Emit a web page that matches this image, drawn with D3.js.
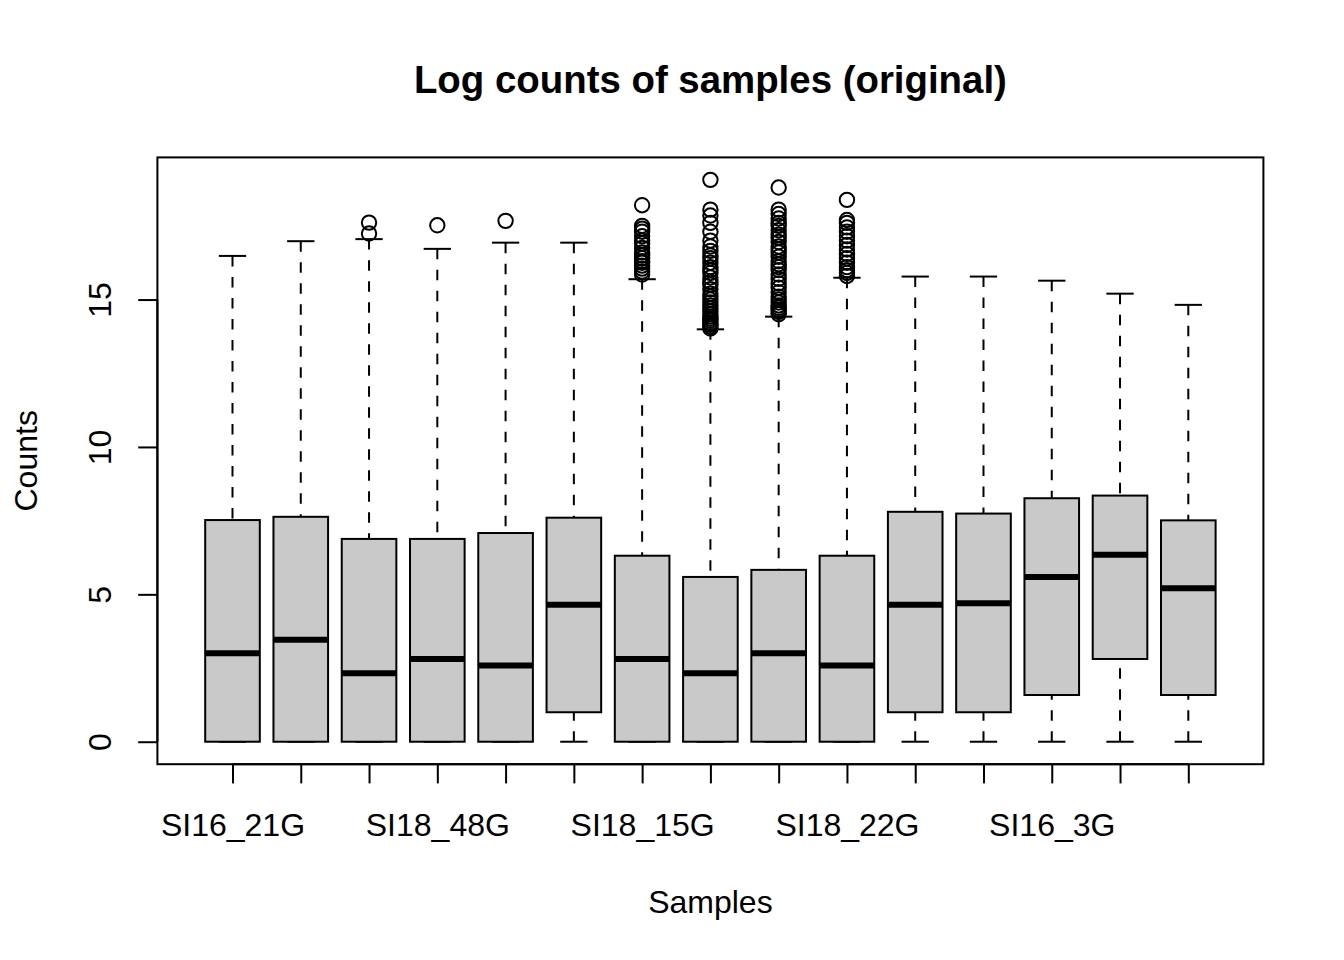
<!DOCTYPE html>
<html>
<head>
<meta charset="utf-8">
<script src="https://cdn.jsdelivr.net/npm/d3@7"></script>
<style>
  html, body { margin: 0; padding: 0; background: #ffffff; }
  svg { display: block; }
  text { font-family: "Liberation Sans", Arial, Helvetica, sans-serif; fill: #000; }
</style>
</head>
<body>
<svg id="chart" width="1344" height="960"></svg>
<script>
// ---------------- data ----------------
const sampleIndex = [1, 2, 3, 4, 5, 6, 7, 8, 9, 10, 11, 12, 13, 14, 15];
// only every third sample label is drawn in the reference (others suppressed by overlap)
const tickLabels = ["SI16_21G", "", "", "SI18_48G", "", "", "SI18_15G", "", "", "SI18_22G", "", "", "SI16_3G", "", ""];

const whiskerLow  = [0, 0, 0, 0, 0, 0, 0, 0, 0, 0, 0, 0, 0, 0, 0];
const q1Values    = [0, 0, 0, 0, 0, 1.0, 0, 0, 0, 0, 1.0, 1.0, 1.585, 2.807, 1.585];
const medians     = [3.0, 3.459, 2.322, 2.807, 2.585, 4.644, 2.807, 2.322, 3.0, 2.585, 4.644, 4.70, 5.585, 6.34, 5.21];
const q3Values    = [7.52, 7.63, 6.88, 6.88, 7.08, 7.60, 6.31, 5.59, 5.83, 6.31, 7.80, 7.74, 8.26, 8.35, 7.51];
const whiskerHigh = [16.48, 16.98, 17.05, 16.72, 16.93, 16.93, 15.69, 13.99, 14.42, 15.74, 15.78, 15.78, 15.64, 15.20, 14.82];

const outliers3  = [17.24, 17.61];
const outliers4  = [17.52];
const outliers5  = [17.67];
const outliers7  = [15.85, 15.95, 16.05, 16.15, 16.25, 16.3, 16.4, 16.5, 16.6, 16.75, 16.9, 17.0, 17.15, 17.3, 17.4, 17.5, 18.2];
const outliers8  = [14.02, 14.08, 14.15, 14.2, 14.28, 14.35, 14.42, 14.5, 14.6, 14.7, 14.8, 14.9, 15.0, 15.1, 15.2, 15.35, 15.5, 15.6, 15.75, 15.9, 16.0, 16.1, 16.25, 16.4, 16.5, 16.65, 16.8, 17.0, 17.3, 17.6, 17.85, 18.05, 19.06];
const outliers9  = [14.5, 14.58, 14.65, 14.72, 14.8, 14.9, 15.0, 15.1, 15.25, 15.4, 15.55, 15.7, 15.85, 16.0, 16.1, 16.2, 16.3, 16.45, 16.6, 16.7, 16.8, 16.95, 17.1, 17.2, 17.35, 17.5, 17.6, 17.75, 17.9, 18.05, 18.8];
const outliers10 = [15.8, 15.9, 16.0, 16.1, 16.25, 16.4, 16.55, 16.7, 16.85, 17.0, 17.15, 17.3, 17.45, 17.6, 17.7, 18.38];
const outlierLists = [[], [], outliers3, outliers4, outliers5, [], outliers7, outliers8, outliers9, outliers10, [], [], [], [], []];

const yTicks = [0, 5, 10, 15];

const titleText = "Log counts of samples (original)";
const xTitle = "Samples";
const yTitle = "Counts";

// ---------------- layout ----------------
const W = 1344, H = 960;
const plot = { left: 157.4, right: 1263.4, top: 157.4, bottom: 764.2 };

const svg = d3.select("#chart");

// R-style 4% expanded ranges
const n = sampleIndex.length;
const xPad = (n) * 0.04;
const x = d3.scaleLinear().domain([0.5 - xPad, n + 0.5 + xPad]).range([plot.left, plot.right]);

const allVals = [].concat(whiskerLow, whiskerHigh, ...outlierLists);
const yMin = d3.min(allVals), yMax = d3.max(allVals);
const yPad = (yMax - yMin) * 0.04;
const y = d3.scaleLinear().domain([yMin - yPad, yMax + yPad]).range([plot.bottom, plot.top]);

const boxHalf = (x(1.4) - x(1)) ;      // box half width = 0.4 units
const capHalf = boxHalf * 0.5;          // staple half width
const lw = 2;

const boxes = sampleIndex.map((s, i) => ({
  s, lo: whiskerLow[i], q1: q1Values[i], med: medians[i], q3: q3Values[i], hi: whiskerHigh[i], out: outlierLists[i]
}));

const g = svg.append("g");

// whiskers (dashed), drawn from whisker end toward the box as R does
const bg = g.selectAll("g.box").data(boxes).enter().append("g").attr("class", "box");

bg.append("line")
  .attr("x1", d => x(d.s)).attr("x2", d => x(d.s))
  .attr("y1", d => y(d.hi)).attr("y2", d => y(d.q3))
  .attr("stroke", "#000").attr("stroke-width", lw).attr("stroke-dasharray", "10.5,10.5");
bg.append("line")
  .attr("x1", d => x(d.s)).attr("x2", d => x(d.s))
  .attr("y1", d => y(d.lo)).attr("y2", d => y(d.q1))
  .attr("stroke", "#000").attr("stroke-width", lw).attr("stroke-dasharray", "10.5,10.5");

// staples
bg.append("line")
  .attr("x1", d => x(d.s) - capHalf).attr("x2", d => x(d.s) + capHalf)
  .attr("y1", d => y(d.hi)).attr("y2", d => y(d.hi))
  .attr("stroke", "#000").attr("stroke-width", lw);
bg.append("line")
  .attr("x1", d => x(d.s) - capHalf).attr("x2", d => x(d.s) + capHalf)
  .attr("y1", d => y(d.lo)).attr("y2", d => y(d.lo))
  .attr("stroke", "#000").attr("stroke-width", lw);

// boxes
bg.append("rect")
  .attr("x", d => x(d.s) - boxHalf)
  .attr("width", boxHalf * 2)
  .attr("y", d => y(d.q3))
  .attr("height", d => Math.max(0, y(d.q1) - y(d.q3)))
  .attr("fill", "#C9C9C9").attr("stroke", "#000").attr("stroke-width", lw);

// medians
bg.append("line")
  .attr("x1", d => x(d.s) - boxHalf).attr("x2", d => x(d.s) + boxHalf)
  .attr("y1", d => y(d.med)).attr("y2", d => y(d.med))
  .attr("stroke", "#000").attr("stroke-width", 6);

// outliers
bg.each(function (d) {
  d3.select(this).selectAll("circle").data(d.out).enter().append("circle")
    .attr("cx", x(d.s)).attr("cy", v => y(v)).attr("r", 7.2)
    .attr("fill", "none").attr("stroke", "#000").attr("stroke-width", lw);
});

// plot frame
svg.append("rect")
  .attr("x", plot.left).attr("y", plot.top)
  .attr("width", plot.right - plot.left).attr("height", plot.bottom - plot.top)
  .attr("fill", "none").attr("stroke", "#000").attr("stroke-width", lw);

// x axis
const xAxis = d3.axisBottom(x).tickValues(sampleIndex).tickSize(19.2).tickPadding(0)
  .tickFormat((d, i) => tickLabels[i]);
const xg = svg.append("g").attr("transform", `translate(0,${plot.bottom})`).call(xAxis);
xg.select(".domain").attr("d", `M${x(1)},0H${x(n)}`).attr("stroke-width", lw);
xg.selectAll(".tick line").attr("stroke-width", lw);
xg.selectAll(".tick text")
  .attr("font-size", 32).attr("font-family", "Liberation Sans, Arial, sans-serif")
  .attr("y", 72.3).attr("dy", 0).attr("fill", "#000");

// y axis
const yAxis = d3.axisLeft(y).tickValues(yTicks).tickSize(19.2).tickPadding(0).tickFormat(d3.format("d"));
const yg = svg.append("g").attr("transform", `translate(${plot.left},0)`).call(yAxis);
yg.select(".domain").attr("d", `M0,${y(0)}V${y(15)}`).attr("stroke-width", lw);
yg.selectAll(".tick line").attr("stroke-width", lw);
yg.selectAll(".tick text")
  .attr("font-size", 32).attr("font-family", "Liberation Sans, Arial, sans-serif")
  .attr("x", 0).attr("dy", 0)
  .attr("text-anchor", "middle")
  .attr("transform", "translate(-46,0) rotate(-90)")
  .attr("fill", "#000");

// titles
svg.append("text")
  .attr("x", (plot.left + plot.right) / 2).attr("y", 93)
  .attr("text-anchor", "middle").attr("font-size", 38.4).attr("font-weight", "bold")
  .text(titleText);

svg.append("text")
  .attr("x", (plot.left + plot.right) / 2).attr("y", 912.5)
  .attr("text-anchor", "middle").attr("font-size", 32)
  .text(xTitle);

svg.append("text")
  .attr("transform", `translate(37,${(plot.top + plot.bottom) / 2}) rotate(-90)`)
  .attr("text-anchor", "middle").attr("font-size", 32)
  .text(yTitle);
</script>
</body>
</html>
